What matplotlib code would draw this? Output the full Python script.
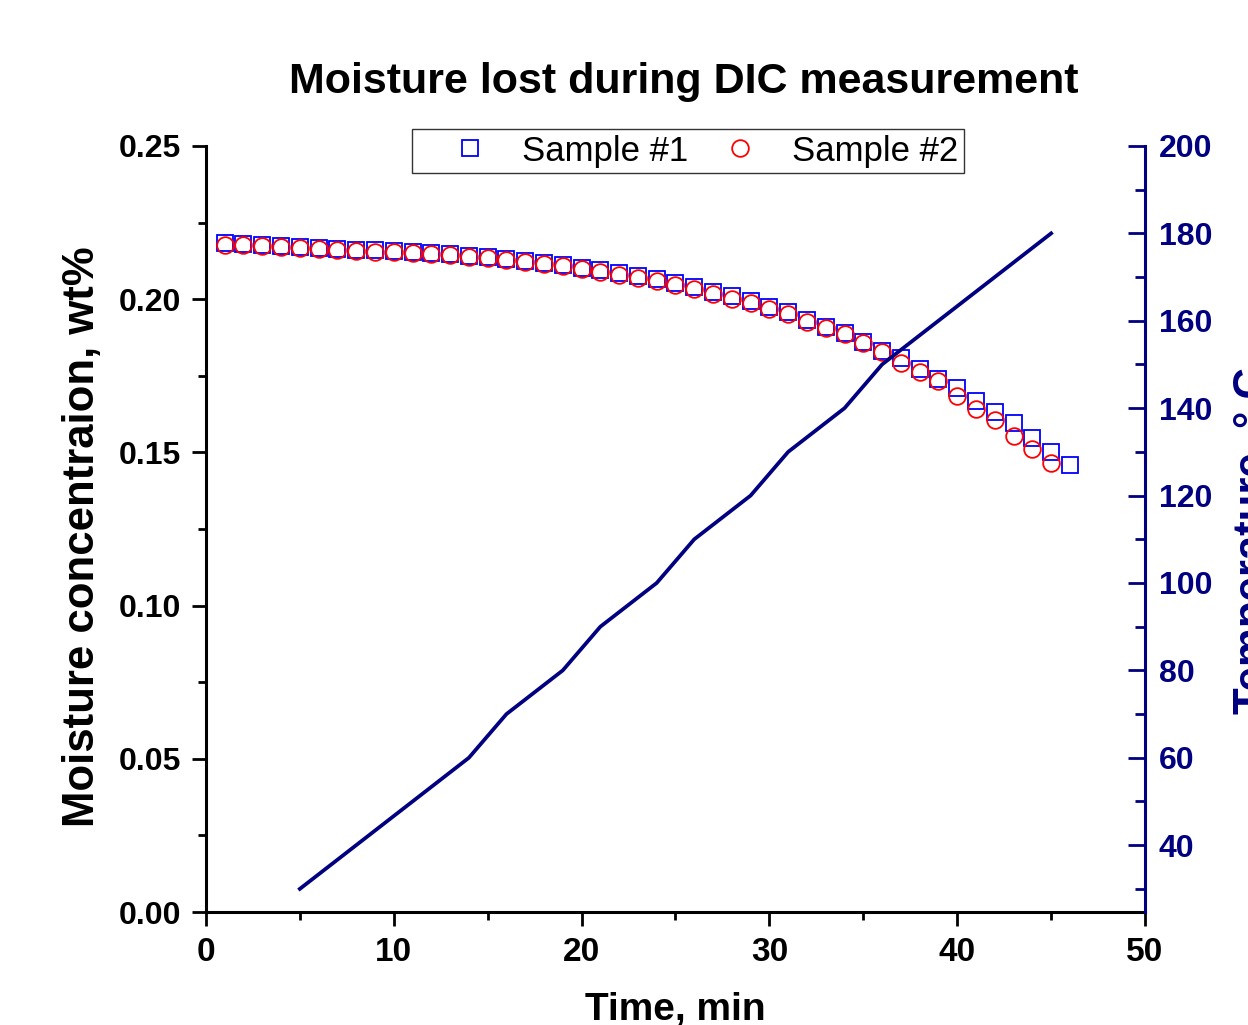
import matplotlib
matplotlib.use('Agg')
import matplotlib.pyplot as plt
from matplotlib.ticker import MultipleLocator

plt.rcParams['font.family'] = ['Liberation Sans', 'DejaVu Sans']

# moisture data (wt%)
time_s1 = list(range(1, 47))
moist_s1 = [0.2183, 0.2180, 0.2177, 0.2174, 0.2171, 0.2168, 0.2165, 0.2162, 0.2160, 0.2157,
            0.2155, 0.2151, 0.2147, 0.2142, 0.2137, 0.2132, 0.2126, 0.2119, 0.2111, 0.2103,
            0.2095, 0.2086, 0.2075, 0.2066, 0.2054, 0.2041, 0.2024, 0.2009, 0.1994, 0.1976,
            0.1958, 0.1933, 0.1910, 0.1889, 0.1859, 0.1830, 0.1807, 0.1771, 0.1740, 0.1711,
            0.1669, 0.1631, 0.1595, 0.1546, 0.1502, 0.1460]
time_s2 = list(range(1, 46))
moist_s2 = [0.2178, 0.2176, 0.2173, 0.2170, 0.2167, 0.2164, 0.2161, 0.2158, 0.2155, 0.2153,
            0.2151, 0.2147, 0.2143, 0.2138, 0.2133, 0.2128, 0.2122, 0.2115, 0.2107, 0.2099,
            0.2090, 0.2079, 0.2069, 0.2059, 0.2047, 0.2034, 0.2018, 0.2002, 0.1987, 0.1969,
            0.1951, 0.1927, 0.1905, 0.1886, 0.1856, 0.1829, 0.1791, 0.1763, 0.1733, 0.1684,
            0.1641, 0.1606, 0.1554, 0.1510, 0.1464]

# temperature ramp (deg C)
time_t = [5, 14, 16, 19, 21, 24, 26, 29, 31, 34, 36, 45]
temp_t = [30, 60, 70, 80, 90, 100, 110, 120, 130, 140, 150, 180]

NAVY = '#000080'

fig = plt.figure(figsize=(12.48, 10.25), dpi=100)
ax = fig.add_axes([0.165, 0.1102, 0.7525, 0.7474])
ax2 = ax.twinx()

ax.plot(time_s1, moist_s1, ls='none', marker='s', ms=11, mfc='none', mec='#0000FF',
        mew=1.3, label='Sample #1')
ax.plot(time_s2, moist_s2, ls='none', marker='o', ms=12, mfc='none', mec='#FF0000',
        mew=1.3, label='Sample #2')
ax2.plot(time_t, temp_t, color=NAVY, lw=2.7)

ax.set_xlim(0, 50)
ax.set_ylim(0, 0.25)
ax2.set_ylim(24.7, 200)

ax.xaxis.set_major_locator(MultipleLocator(10))
ax.xaxis.set_minor_locator(MultipleLocator(5))
ax.yaxis.set_major_locator(MultipleLocator(0.05))
ax.yaxis.set_minor_locator(MultipleLocator(0.025))
ax2.yaxis.set_major_locator(MultipleLocator(20))
ax2.yaxis.set_minor_locator(MultipleLocator(10))
ax.yaxis.set_major_formatter(plt.FormatStrFormatter('%.2f'))

ax.spines['top'].set_visible(False)
ax2.spines['top'].set_visible(False)
ax.spines['left'].set_linewidth(2.2)
ax.spines['bottom'].set_linewidth(2.2)
ax.spines['right'].set_visible(False)
ax2.spines['left'].set_visible(False)
ax2.spines['bottom'].set_visible(False)
ax2.spines['right'].set_linewidth(2.2)
ax2.spines['right'].set_color(NAVY)

ax.tick_params(axis='both', which='major', direction='out', length=10, width=2)
ax.tick_params(axis='both', which='minor', direction='out', length=6, width=2)
ax.tick_params(axis='y', labelsize=23, pad=8)
ax.tick_params(axis='x', labelsize=24, pad=8)
ax2.tick_params(axis='y', which='major', direction='in', length=12, width=2, color=NAVY,
                labelcolor=NAVY, labelsize=23, pad=10)
ax2.tick_params(axis='y', which='minor', direction='in', length=7, width=2, color=NAVY)

for lab in ax.get_yticklabels() + ax2.get_yticklabels() + ax.get_xticklabels():
    lab.set_fontweight('bold')

fig.text(684 / 1248, 1 - 82 / 1025, 'Moisture lost during DIC measurement',
         ha='center', va='center', fontsize=31, fontweight='bold')
fig.text(62 / 1248, 1 - 537 / 1025, 'Moisture concentraion, wt%', rotation=90,
         ha='left', va='center', fontsize=31.5, fontweight='bold')
fig.text(1233 / 1248, 1 - 541 / 1025, 'Temperature, \u00b0 C', rotation=90,
         ha='left', va='center', fontsize=31.5, fontweight='bold', color=NAVY)
fig.text(675 / 1248, 1 - 992 / 1025, 'Time, min', ha='center', va='top',
         fontsize=28, fontweight='bold')

leg = ax.legend(loc='center', bbox_to_anchor=(688 / 1248, 1 - 151 / 1025),
                bbox_transform=fig.transFigure, ncol=2, fontsize=25, frameon=True,
                fancybox=False, edgecolor='black', handletextpad=0.0, columnspacing=0.0,
                borderpad=0.15, handlelength=3.0, borderaxespad=0)
leg.get_frame().set_linewidth(1.0)

fig.savefig('out.png', dpi=100)
